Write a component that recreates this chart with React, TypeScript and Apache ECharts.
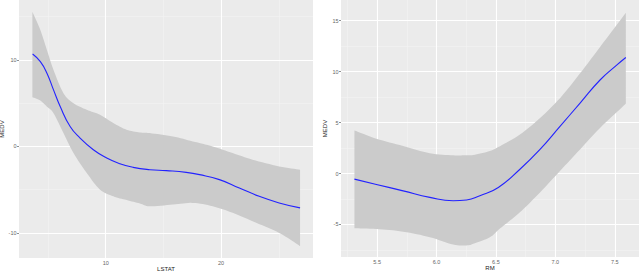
import React, { useEffect, useRef } from "react";
import * as echarts from "echarts";

// Left panel: LSTAT vs MEDV
const lstatLineX = [3.67, 4.34, 4.91, 5.48, 6.06, 6.92, 7.78, 8.93, 10.09, 11.23, 12.38, 13.82, 15.26, 16.98, 18.13, 19.85, 21.58, 23.3, 25.03, 26.84];
const lstatLineY = [10.69, 9.8, 8.47, 6.54, 4.61, 2.31, 0.97, -0.38, -1.34, -2.0, -2.42, -2.69, -2.8, -3.0, -3.26, -3.84, -4.8, -5.77, -6.53, -7.1];
const lstatBandX = [3.65, 4.34, 4.91, 5.48, 6.34, 7.21, 8.36, 9.51, 10.66, 11.81, 12.96, 13.82, 15.83, 17.55, 19.27, 21.0, 22.72, 25.03, 26.84];
const lstatUpper = [15.57, 13.46, 11.15, 8.85, 6.16, 5.0, 4.23, 3.66, 2.7, 1.93, 1.62, 1.54, 1.15, 0.58, 0.0, -0.77, -1.53, -2.31, -2.69];
const lstatLower = [5.7, 5.3, 4.6, 3.85, 1.54, -0.76, -3.07, -5.0, -5.77, -6.2, -6.6, -6.92, -6.72, -6.53, -6.92, -7.68, -8.65, -10.0, -11.53];
const lstatXMajor = [10, 20];
const lstatXMinor = [5, 15, 25];
const lstatYMajor = [-10, 0, 10];
const lstatYMinor = [-5, 5, 15];

// Right panel: RM vs MEDV
const rmLineX = [5.309, 5.494, 5.719, 5.944, 6.14, 6.253, 6.365, 6.52, 6.702, 6.871, 7.039, 7.208, 7.376, 7.516, 7.593];
const rmLineY = [-0.55, -1.07, -1.7, -2.34, -2.67, -2.6, -2.18, -1.37, 0.42, 2.37, 4.63, 6.91, 9.18, 10.64, 11.39];
const rmBandX = [5.309, 5.494, 5.719, 5.944, 6.14, 6.253, 6.309, 6.449, 6.534, 6.702, 6.871, 7.039, 7.208, 7.376, 7.593];
const rmUpper = [4.23, 3.42, 2.7, 1.99, 1.79, 1.8, 1.82, 2.21, 2.69, 3.83, 5.45, 7.4, 9.83, 12.42, 15.77];
const rmLower = [-5.37, -5.44, -5.7, -6.25, -6.97, -7.05, -6.9, -6.25, -5.4, -3.8, -1.85, 0.25, 2.37, 4.48, 6.85];
const rmXMajor = [5.5, 6.0, 6.5, 7.0, 7.5];
const rmXMinor = [5.25, 5.75, 6.25, 6.75, 7.25];
const rmYMajor = [-5, 0, 5, 10, 15];
const rmYMinor = [-7.5, -2.5, 2.5, 7.5, 12.5];

const FONT = "Liberation Sans, Arial, sans-serif";
const BG = "#EBEBEB";
const BAND = "#CBCBCB";
const LINE = "#2222FF";

// Catmull-Rom smoothing of pixel points (rendering only)
function smoothPts(pts: number[][], steps = 8): number[][] {
  const out: number[][] = [];
  const n = pts.length;
  for (let i = 0; i < n - 1; i++) {
    const p0 = pts[Math.max(0, i - 1)];
    const p1 = pts[i];
    const p2 = pts[i + 1];
    const p3 = pts[Math.min(n - 1, i + 2)];
    for (let s = 0; s < steps; s++) {
      const t = s / steps;
      const t2 = t * t;
      const t3 = t2 * t;
      const f = (a: number, b: number, c: number, d: number) =>
        0.5 * (2 * b + (-a + c) * t + (2 * a - 5 * b + 4 * c - d) * t2 + (-a + 3 * b - 3 * c + d) * t3);
      out.push([f(p0[0], p1[0], p2[0], p3[0]), f(p0[1], p1[1], p2[1], p3[1])]);
    }
  }
  out.push(pts[n - 1]);
  return out;
}

function gridLines(xMaj: number[], xMin: number[], yMaj: number[], yMin: number[]) {
  const minor = { color: "#F4F4F4", width: 0.6, type: "solid" };
  const major = { color: "#FFFFFF", width: 1.1, type: "solid" };
  return [
    ...xMin.map((v) => ({ xAxis: v, lineStyle: minor })),
    ...yMin.map((v) => ({ yAxis: v, lineStyle: minor })),
    ...xMaj.map((v) => ({ xAxis: v, lineStyle: major })),
    ...yMaj.map((v) => ({ yAxis: v, lineStyle: major })),
  ];
}

function xAxisOf(idx: number, min: number, max: number, major: number[], name: string, fmt: (v: number) => string) {
  return {
    type: "value",
    gridIndex: idx,
    min,
    max,
    name,
    nameLocation: "middle",
    nameGap: 7.5,
    nameMoveOverlap: false,
    nameTextStyle: { fontSize: 6, color: "#222", fontFamily: FONT },
    axisLine: { show: false },
    axisTick: { show: true, length: 2, customValues: major, lineStyle: { color: "#444", width: 0.6 } },
    axisLabel: { show: true, customValues: major, fontSize: 5.5, color: "#666", fontFamily: FONT, margin: 2, formatter: fmt },
    splitLine: { show: false },
  };
}

function yAxisOf(idx: number, min: number, max: number, major: number[], gap: number) {
  return {
    type: "value",
    gridIndex: idx,
    min,
    max,
    name: "MEDV",
    nameLocation: "middle",
    nameRotate: 90,
    nameGap: gap,
    nameTextStyle: { fontSize: 6, color: "#222", fontFamily: FONT },
    axisLine: { show: false },
    axisTick: { show: true, length: 2, customValues: major, lineStyle: { color: "#444", width: 0.6 } },
    axisLabel: { show: true, customValues: major, fontSize: 5.5, color: "#666", fontFamily: FONT, margin: 2.5 },
    splitLine: { show: false },
  };
}

function panelSeries(idx: number, bandX: number[], upper: number[], lower: number[], lineX: number[], lineY: number[], grid: any[]) {
  return [
    {
      type: "custom",
      xAxisIndex: idx,
      yAxisIndex: idx,
      silent: true,
      z: 3,
      data: [[bandX[0], upper[0]]],
      renderItem: (_params: any, api: any) => {
        const up = bandX.map((x, i) => api.coord([x, upper[i]]));
        const lo = bandX.map((x, i) => api.coord([x, lower[i]]));
        const pts = [...smoothPts(up), ...smoothPts(lo).reverse()];
        return { type: "polygon", shape: { points: pts }, style: { fill: BAND, stroke: "none" } };
      },
    },
    {
      type: "line",
      xAxisIndex: idx,
      yAxisIndex: idx,
      smooth: 0.5,
      symbol: "none",
      silent: true,
      z: 4,
      lineStyle: { color: LINE, width: 1.1 },
      data: lineX.map((x, i) => [x, lineY[i]]),
      markLine: {
        silent: true,
        symbol: ["none", "none"],
        label: { show: false },
        z: 1,
        animation: false,
        data: grid,
      },
    },
  ];
}

export default function App() {
  const ref = useRef<HTMLDivElement>(null);
  useEffect(() => {
    if (!ref.current) return;
    const chart = echarts.init(ref.current, undefined, { renderer: "svg" });
    chart.setOption({
      animation: false,
      backgroundColor: "#FFFFFF",
      grid: [
        { left: 19, top: 0, width: 294, height: 258, show: true, backgroundColor: BG, borderWidth: 0, outerBoundsMode: "none", containLabel: false },
        { left: 341, top: 0, width: 298, height: 257, show: true, backgroundColor: BG, borderWidth: 0, outerBoundsMode: "none", containLabel: false },
      ],
      xAxis: [
        xAxisOf(0, 2.49, 27.96, lstatXMajor, "LSTAT", (v: number) => String(v)),
        xAxisOf(1, 5.196, 7.704, rmXMajor, "RM", (v: number) => v.toFixed(1)),
      ],
      yAxis: [
        yAxisOf(0, -12.9, 16.93, lstatYMajor, 14),
        yAxisOf(1, -8.19, 17.03, rmYMajor, 11),
      ],
      series: [
        ...panelSeries(0, lstatBandX, lstatUpper, lstatLower, lstatLineX, lstatLineY, gridLines(lstatXMajor, lstatXMinor, lstatYMajor, lstatYMinor)),
        ...panelSeries(1, rmBandX, rmUpper, rmLower, rmLineX, rmLineY, gridLines(rmXMajor, rmXMinor, rmYMajor, rmYMinor)),
      ],
    });
    return () => chart.dispose();
  }, []);
  return (
    <div
      ref={ref}
      style={{ position: "fixed", left: 0, top: 0, width: 640, height: 271, background: "#fff" }}
    />
  );
}
